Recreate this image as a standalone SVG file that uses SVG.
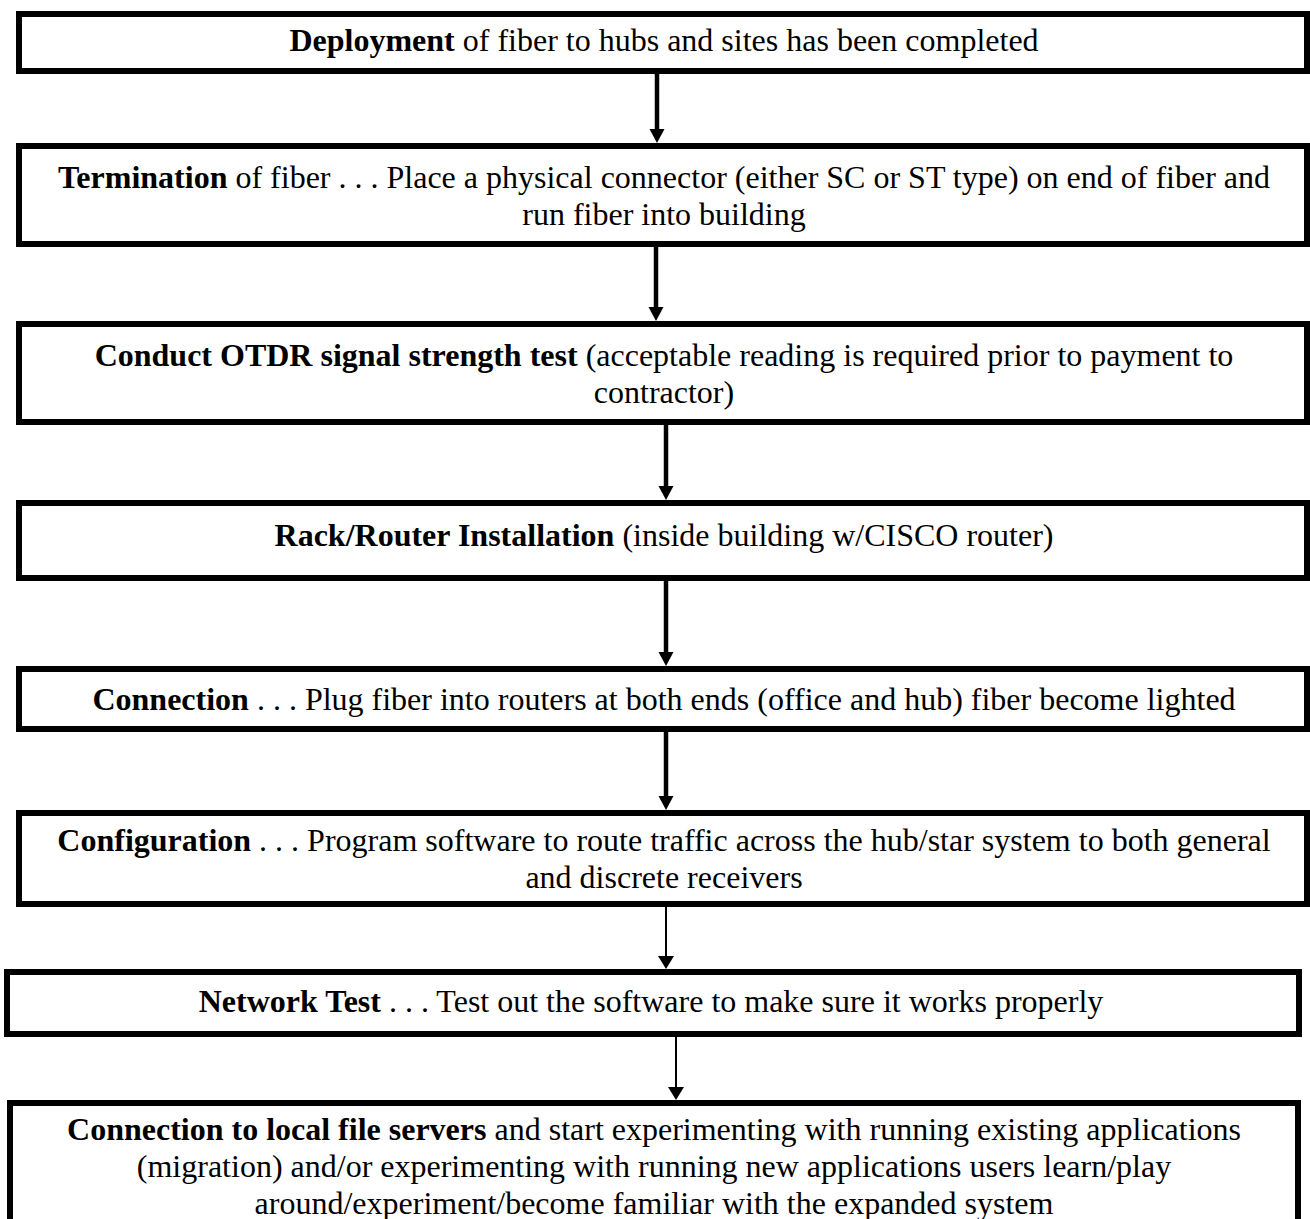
<svg xmlns="http://www.w3.org/2000/svg" width="1310" height="1219" viewBox="0 0 1310 1219">
<style>
.box{fill:#fff;stroke:#000;stroke-width:6}
.t{font-family:"Liberation Serif","Times New Roman",serif;font-size:32px;fill:#000;text-anchor:middle}
.b{font-weight:bold}
.thick{stroke:#000;stroke-width:4.5;fill:none}
.thin{stroke:#000;stroke-width:2;fill:none}
</style>
<defs>
<marker id="ahThick" markerUnits="userSpaceOnUse" markerWidth="16" markerHeight="16" refX="0" refY="7.5" orient="auto" viewBox="0 0 16 16">
<path d="M0,0 L14,7.5 L0,15 z" fill="#000"/>
</marker>
<marker id="ahThin" markerUnits="userSpaceOnUse" markerWidth="16" markerHeight="17" refX="0" refY="8" orient="auto" viewBox="0 0 16 17">
<path d="M0,0 L13,8 L0,16 z" fill="#000"/>
</marker>
</defs>
<rect width="1310" height="1219" fill="#fff"/>
<g id="connectors">
<line class="thick" x1="657" y1="74" x2="657" y2="129" marker-end="url(#ahThick)"/>
<line class="thick" x1="656" y1="247" x2="656" y2="307" marker-end="url(#ahThick)"/>
<line class="thick" x1="666" y1="425" x2="666" y2="486" marker-end="url(#ahThick)"/>
<line class="thick" x1="666" y1="581" x2="666" y2="652" marker-end="url(#ahThick)"/>
<line class="thick" x1="666" y1="732" x2="666" y2="796" marker-end="url(#ahThick)"/>
<line class="thin" x1="666" y1="907" x2="666" y2="956" marker-end="url(#ahThin)"/>
<line class="thin" x1="676" y1="1037" x2="676" y2="1087" marker-end="url(#ahThin)"/>
</g>
<g id="deployment">
<rect class="box" x="19" y="14" width="1288" height="57"/>
<text class="t" x="664" y="51"><tspan class="b">Deployment</tspan> of fiber to hubs and sites has been completed</text>
</g>
<g id="termination">
<rect class="box" x="19" y="146" width="1288" height="98"/>
<text class="t" x="664" y="188"><tspan class="b">Termination</tspan> of fiber . . . Place a physical connector (either SC or ST type) on end of fiber and</text>
<text class="t" x="664" y="225">run fiber into building</text>
</g>
<g id="otdr">
<rect class="box" x="19" y="324" width="1288" height="98"/>
<text class="t" x="664" y="366"><tspan class="b">Conduct OTDR signal strength test</tspan> (acceptable reading is required prior to payment to</text>
<text class="t" x="664" y="403">contractor)</text>
</g>
<g id="rack">
<rect class="box" x="19" y="503" width="1288" height="75"/>
<text class="t" x="664" y="546"><tspan class="b">Rack/Router Installation</tspan> (inside building w/CISCO router)</text>
</g>
<g id="connection">
<rect class="box" x="19" y="669" width="1288" height="60"/>
<text class="t" x="664" y="710"><tspan class="b">Connection</tspan> . . . Plug fiber into routers at both ends (office and hub) fiber become lighted</text>
</g>
<g id="configuration">
<rect class="box" x="19" y="813" width="1288" height="91"/>
<text class="t" x="664" y="851"><tspan class="b">Configuration</tspan> . . . Program software to route traffic across the hub/star system to both general</text>
<text class="t" x="664" y="888">and discrete receivers</text>
</g>
<g id="network-test">
<rect class="box" x="7" y="972" width="1292" height="62"/>
<text class="t" x="651" y="1012"><tspan class="b">Network Test</tspan> . . . Test out the software to make sure it works properly</text>
</g>
<g id="file-servers">
<rect class="box" x="10" y="1103" width="1288" height="150"/>
<text class="t" x="654" y="1140"><tspan class="b">Connection to local file servers</tspan> and start experimenting with running existing applications</text>
<text class="t" x="654" y="1177">(migration) and/or experimenting with running new applications users learn/play</text>
<text class="t" x="654" y="1214">around/experiment/become familiar with the expanded system</text>
</g>
</svg>
